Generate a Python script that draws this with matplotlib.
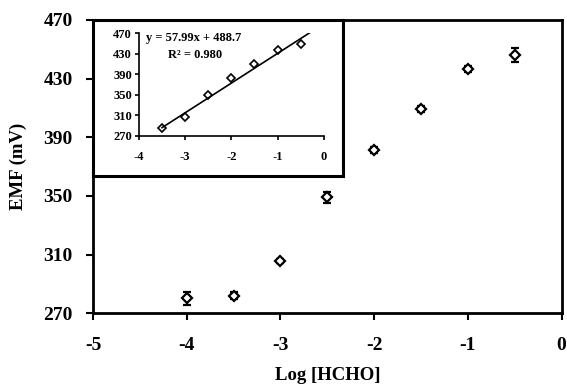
import numpy as np
import matplotlib.pyplot as plt

# main data: EMF vs log concentration
log_conc = [-4.0, -3.5, -3.0, -2.5, -2.0, -1.5, -1.0, -0.5]
emf = [280.2, 282.0, 305.6, 349.0, 381.5, 409.5, 436.5, 446.0]
emf_err = [4.5, 2.5, 1.5, 3.5, 2.0, 2.0, 2.0, 4.8]

# inset (linear range) data
log_lin = [-3.5, -3.0, -2.5, -2.0, -1.5, -1.0, -0.5]
emf_lin = [284.5, 307.0, 349.5, 382.0, 410.0, 437.4, 448.5]
slope, intercept = 57.99, 488.7
fit_range = [-3.5, -0.3]

plt.rcParams['font.family'] = ['Liberation Serif', 'DejaVu Serif']
plt.rcParams['font.weight'] = 'bold'

fig = plt.figure(figsize=(5.67, 3.85), dpi=100)
ax = fig.add_axes([0.164, 0.186, 0.8265, 0.7626])

ax.errorbar(log_conc, emf, yerr=emf_err, fmt='D', mfc='white', mec='black',
            ms=5.5, mew=1.6, ecolor='black', elinewidth=1.6, capsize=3, capthick=1.6)
ax.set_xlim(-5, 0)
ax.set_ylim(270, 470)
ax.set_xticks(np.arange(-5, 1, 1))
ax.set_yticks(np.arange(270, 471, 40))
ax.set_xticklabels(['-5', '-4', '-3', '-2', '-1', '0'])
ax.tick_params(direction='out', length=5, width=1.5, labelsize=14, pad=12)
ax.tick_params(axis='y', pad=9.5)
for s in ax.spines.values():
    s.set_linewidth(2)
ax.set_xlabel('Log [HCHO]', fontsize=13.5, fontweight='bold', labelpad=9)
ax.set_ylabel('EMF (mV)', fontsize=13.5, fontweight='bold', labelpad=12)

# white box behind inset
box = fig.add_axes([0.164, 0.543, 0.441, 0.405])
box.set_xticks([])
box.set_yticks([])
for s in box.spines.values():
    s.set_linewidth(2.2)

ins = fig.add_axes([0.245, 0.6475, 0.326, 0.266])
ins.plot(log_lin, emf_lin, 'D', mfc='white', mec='black', ms=4.5, mew=1.2)
xf = np.array(fit_range)
ins.plot(xf, slope * xf + intercept, color='black', lw=1.2)
ins.set_xlim(-4, 0)
ins.set_ylim(270, 470)
ins.set_xticks(np.arange(-4, 1, 1))
ins.set_yticks(np.arange(270, 471, 40))
ins.set_xticklabels(['-4', '-3', '-2', '-1', '0'])
ins.tick_params(direction='out', length=3, width=1.2, labelsize=9, pad=2)
ins.tick_params(axis='x', pad=8)
ins.spines['top'].set_visible(False)
ins.spines['right'].set_visible(False)
ins.spines['left'].set_linewidth(1.2)
ins.spines['bottom'].set_linewidth(1.2)
ins.text(0.04, 1.01, 'y = 57.99x + 488.7', transform=ins.transAxes,
         fontsize=9, fontweight='bold', va='top', ha='left')
ins.text(0.16, 0.85, 'R² = 0.980', transform=ins.transAxes,
         fontsize=9, fontweight='bold', va='top', ha='left')

fig.savefig('out.png', dpi=100)
